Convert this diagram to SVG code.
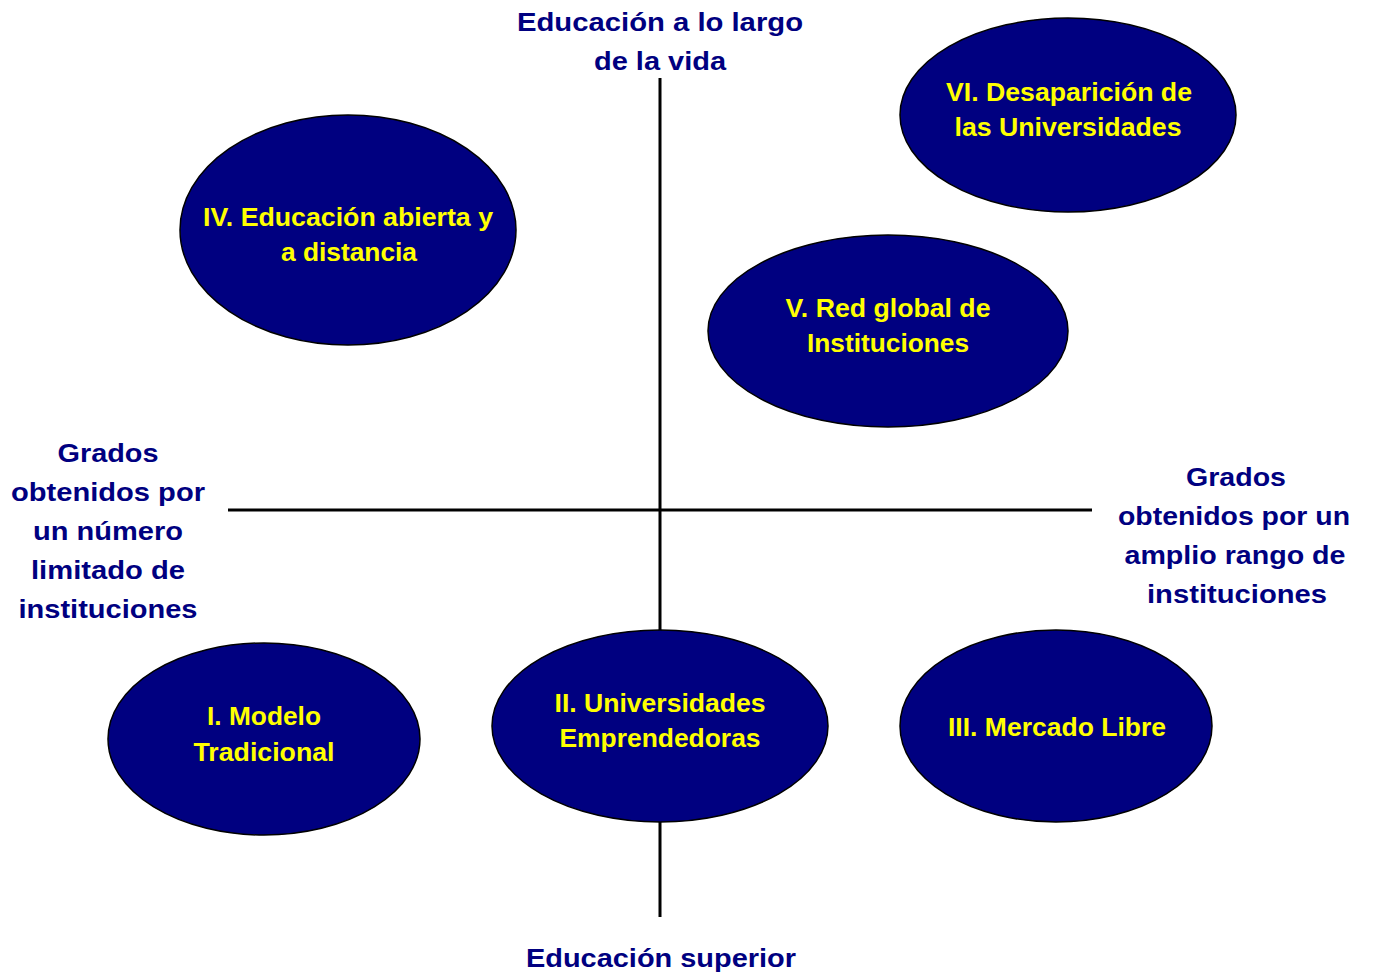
<svg xmlns="http://www.w3.org/2000/svg" width="1376" height="974" viewBox="0 0 1376 974">
<style>
.ax{stroke:#000;stroke-width:3;fill:none}
.el{fill:#000080;stroke:#000;stroke-width:1.5}
.lbl{font-family:"Liberation Sans",Arial,sans-serif;font-weight:bold;font-size:26px;fill:#000080;text-anchor:middle}
.nt{font-family:"Liberation Sans",Arial,sans-serif;font-weight:bold;font-size:25.5px;fill:#FFFF00;text-anchor:middle}
</style>
<rect width="1376" height="974" fill="#fff"/>
<g id="connectors">
<line class="ax" x1="660" y1="78" x2="660" y2="917"/>
<line class="ax" x1="228" y1="510" x2="1092" y2="510"/>
</g>
<g id="axis-labels">
<text class="lbl" x="660" y="31" textLength="286" lengthAdjust="spacingAndGlyphs">Educación a lo largo</text>
<text class="lbl" x="660" y="70" textLength="132" lengthAdjust="spacingAndGlyphs">de la vida</text>
<text class="lbl" x="661" y="967" textLength="270" lengthAdjust="spacingAndGlyphs">Educación superior</text>
<text class="lbl" x="108" y="462" textLength="101" lengthAdjust="spacingAndGlyphs">Grados</text>
<text class="lbl" x="108" y="501" textLength="194" lengthAdjust="spacingAndGlyphs">obtenidos por</text>
<text class="lbl" x="108" y="540" textLength="150" lengthAdjust="spacingAndGlyphs">un número</text>
<text class="lbl" x="108" y="579" textLength="154" lengthAdjust="spacingAndGlyphs">limitado de</text>
<text class="lbl" x="108" y="618" textLength="179" lengthAdjust="spacingAndGlyphs">instituciones</text>
<text class="lbl" x="1236" y="486" textLength="100" lengthAdjust="spacingAndGlyphs">Grados</text>
<text class="lbl" x="1234" y="525" textLength="232" lengthAdjust="spacingAndGlyphs">obtenidos por un</text>
<text class="lbl" x="1235" y="564" textLength="221" lengthAdjust="spacingAndGlyphs">amplio rango de</text>
<text class="lbl" x="1237" y="603" textLength="180" lengthAdjust="spacingAndGlyphs">instituciones</text>
</g>
<g id="node-vi">
<ellipse class="el" cx="1068" cy="115" rx="168" ry="97"/>
<text class="nt" x="1069" y="101" textLength="246" lengthAdjust="spacingAndGlyphs">VI. Desaparición de</text>
<text class="nt" x="1068" y="136" textLength="227" lengthAdjust="spacingAndGlyphs">las Universidades</text>
</g>
<g id="node-iv">
<ellipse class="el" cx="348" cy="230" rx="168" ry="115"/>
<text class="nt" x="348" y="226" textLength="290" lengthAdjust="spacingAndGlyphs">IV. Educación abierta y</text>
<text class="nt" x="349" y="261" textLength="136" lengthAdjust="spacingAndGlyphs">a distancia</text>
</g>
<g id="node-v">
<ellipse class="el" cx="888" cy="331" rx="180" ry="96"/>
<text class="nt" x="888" y="317" textLength="205" lengthAdjust="spacingAndGlyphs">V. Red global de</text>
<text class="nt" x="888" y="352" textLength="162" lengthAdjust="spacingAndGlyphs">Instituciones</text>
</g>
<g id="node-i">
<ellipse class="el" cx="264" cy="739" rx="156" ry="96"/>
<text class="nt" x="264" y="725" textLength="114" lengthAdjust="spacingAndGlyphs">I. Modelo</text>
<text class="nt" x="264" y="761" textLength="141" lengthAdjust="spacingAndGlyphs">Tradicional</text>
</g>
<g id="node-ii">
<ellipse class="el" cx="660" cy="726" rx="168" ry="96"/>
<text class="nt" x="660" y="712" textLength="211" lengthAdjust="spacingAndGlyphs">II. Universidades</text>
<text class="nt" x="660" y="747" textLength="201" lengthAdjust="spacingAndGlyphs">Emprendedoras</text>
</g>
<g id="node-iii">
<ellipse class="el" cx="1056" cy="726" rx="156" ry="96"/>
<text class="nt" x="1057" y="736" textLength="218" lengthAdjust="spacingAndGlyphs">III. Mercado Libre</text>
</g>
</svg>
